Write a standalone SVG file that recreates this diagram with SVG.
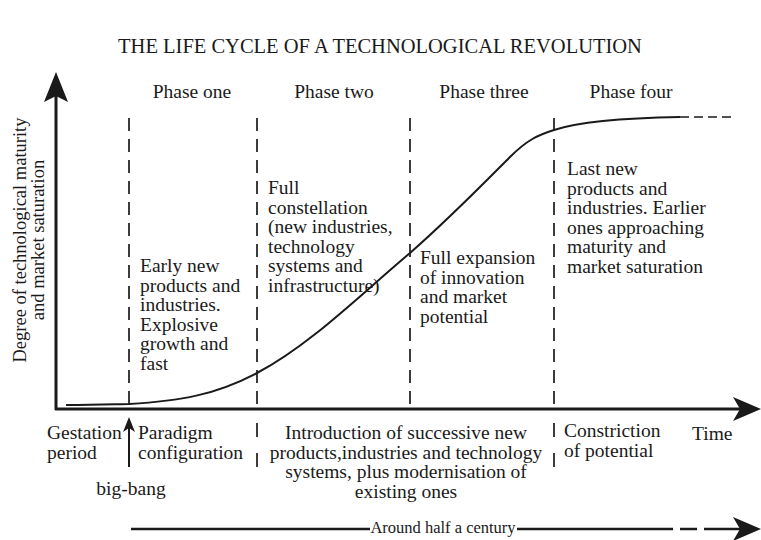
<svg xmlns="http://www.w3.org/2000/svg" width="761" height="540" viewBox="0 0 761 540">
<defs>
<style>
text{font-family:"Liberation Serif","Times New Roman",serif;font-size:19.5px;fill:#1a1a1a}
.t{font-size:20.5px}
.s{font-size:16.5px}
.y{font-size:18.5px}
.m{text-anchor:middle}
.dash{stroke:#1a1a1a;stroke-width:1.7;stroke-dasharray:13 8;fill:none}
.ax{stroke:#1a1a1a;stroke-width:3;fill:none}
.ln{stroke:#1a1a1a;stroke-width:2;fill:none}
</style>
</defs>
<rect width="761" height="540" fill="#fff"/>
<text class="t m" x="380" y="53">THE LIFE CYCLE OF A TECHNOLOGICAL REVOLUTION</text>
<g id="connectors">
<line class="ax" x1="56" y1="95" x2="56" y2="410"/>
<polygon points="56,72 44,102 56,96 68,102" fill="#1a1a1a"/>
<line class="ax" x1="55" y1="409" x2="740" y2="409"/>
<polygon points="761,409 733,397 740,409 733,421" fill="#1a1a1a"/>
<line class="dash" x1="129" y1="118" x2="129" y2="409"/>
<line class="dash" x1="257" y1="118" x2="257" y2="409"/>
<line class="dash" x1="410" y1="118" x2="410" y2="409"/>
<line class="dash" x1="554" y1="118" x2="554" y2="409"/>
<line class="dash" x1="257" y1="423" x2="257" y2="468" style="stroke-dasharray:14 16"/>
<line class="dash" x1="554" y1="423" x2="554" y2="468" style="stroke-dasharray:14 16"/>
<path class="ln" d="M66,405 C100,405 120,404 129,404 C180,401 215,395 257,373 C310,345 360,295 410,253 C450,218 485,182 510,157 C527,140 538,135 554,130 C575,123 620,118 680,117"/>
<line class="dash" x1="680" y1="117" x2="735" y2="117" style="stroke-dasharray:9 5"/>
<line class="ln" x1="129" y1="467" x2="129" y2="425"/>
<polygon points="129,417 123,432 129,428 135,432" fill="#1a1a1a"/>
<line class="ln" x1="131" y1="529" x2="370" y2="529" style="stroke-width:2.5"/>
<line class="ln" x1="517" y1="529" x2="673" y2="529" style="stroke-width:2.5"/>
<line class="ln" x1="680" y1="529" x2="697" y2="529" style="stroke-width:2.5"/>
<line class="ln" x1="704" y1="529" x2="740" y2="529" style="stroke-width:2.5"/>
<polygon points="761,529 733,517 740,529 733,541" fill="#1a1a1a"/>
</g>
<g id="yaxis-label">
<text class="y m" transform="translate(26,240) rotate(-90)">Degree of  technological maturity</text>
<text class="y m" transform="translate(44,240) rotate(-90)">and market saturation</text>
</g>
<g id="phase-one"><text class="m" x="192" y="98">Phase one</text>
<text x="140" y="272">Early new<tspan x="140" dy="19.5">products and</tspan><tspan x="140" dy="19.5">industries.</tspan><tspan x="140" dy="19.5">Explosive</tspan><tspan x="140" dy="19.5">growth and</tspan><tspan x="140" dy="19.5">fast</tspan></text></g>
<g id="phase-two"><text class="m" x="334" y="98">Phase two</text>
<text x="268" y="194">Full<tspan x="268" dy="19.5">constellation</tspan><tspan x="268" dy="19.5">(new industries,</tspan><tspan x="268" dy="19.5">technology</tspan><tspan x="268" dy="19.5">systems and</tspan><tspan x="268" dy="19.5">infrastructure)</tspan></text></g>
<g id="phase-three"><text class="m" x="484" y="98">Phase three</text>
<text x="420" y="264">Full expansion<tspan x="420" dy="19.5">of innovation</tspan><tspan x="420" dy="19.5">and market</tspan><tspan x="420" dy="19.5">potential</tspan></text></g>
<g id="phase-four"><text class="m" x="631" y="98">Phase four</text>
<text x="567" y="175">Last new<tspan x="567" dy="19.5">products and</tspan><tspan x="567" dy="19.5">industries. Earlier</tspan><tspan x="567" dy="19.5">ones approaching</tspan><tspan x="567" dy="19.5">maturity and</tspan><tspan x="567" dy="19.5">market saturation</tspan></text></g>
<g id="gestation"><text x="47" y="439">Gestation<tspan x="47" dy="19.5">period</tspan></text></g>
<g id="big-bang"><text class="m" x="131" y="495">big-bang</text></g>
<g id="paradigm"><text x="138" y="439">Paradigm<tspan x="138" dy="19.5">configuration</tspan></text></g>
<g id="introduction"><text class="m" x="406" y="439">Introduction of successive new<tspan x="406" dy="19.5">products,industries and technology</tspan><tspan x="406" dy="19.5">systems, plus modernisation of</tspan><tspan x="406" dy="19.5">existing ones</tspan></text></g>
<g id="constriction"><text x="564" y="437">Constriction<tspan x="564" dy="19.5">of potential</tspan></text></g>
<g id="time"><text x="692" y="440">Time</text></g>
<g id="half-century"><text class="s m" x="443" y="533">Around half a century</text></g>
</svg>
